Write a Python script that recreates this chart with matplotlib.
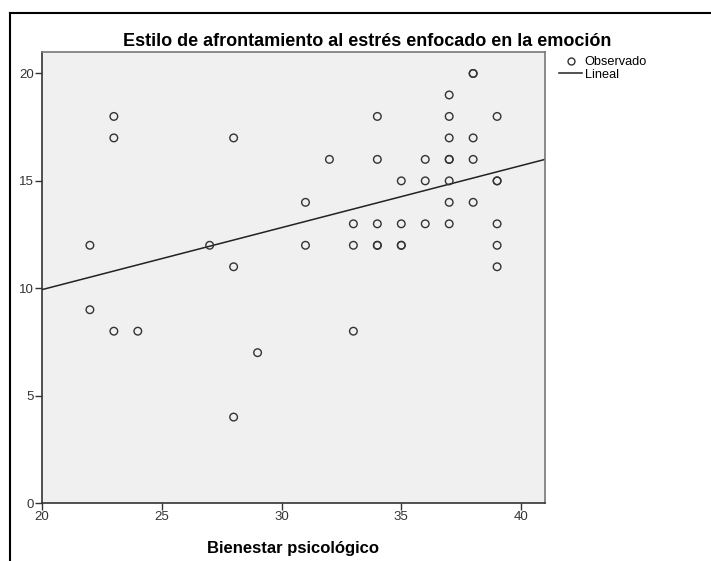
import numpy as np
import matplotlib
matplotlib.use("Agg")
from matplotlib import pyplot as plt
from matplotlib.lines import Line2D

plt.rcParams['font.family'] = ['Liberation Sans', 'DejaVu Sans']

# Bienestar psicológico (x) vs. afrontamiento enfocado en la emoción (y)
bienestar = [22, 22, 23, 23, 23, 24, 27, 28, 28, 28, 29, 31, 31, 32,
             33, 33, 33, 34, 34, 34, 34, 34, 35, 35, 35, 35,
             36, 36, 36, 37, 37, 37, 37, 37, 37, 37, 37,
             38, 38, 38, 38, 38, 39, 39, 39, 39, 39, 39]
emocion = [12, 9, 18, 17, 8, 8, 12, 17, 11, 4, 7, 14, 12, 16,
           13, 12, 8, 18, 16, 13, 12, 12, 15, 13, 12, 12,
           16, 15, 13, 19, 18, 17, 16, 16, 15, 14, 13,
           20, 20, 17, 16, 14, 18, 15, 15, 13, 12, 11]

x_ticks = [20, 25, 30, 35, 40]
y_ticks = [0, 5, 10, 15, 20]

fig = plt.figure(figsize=(7.11, 5.61), dpi=100)
ax = fig.add_axes([42 / 711, 1 - 503 / 561, (545 - 42) / 711, (503 - 52) / 561])
ax.set_facecolor("#f0f0f0")

x = np.array(bienestar, dtype=float)
y = np.array(emocion, dtype=float)
ax.scatter(x, y, s=30, facecolors="none", edgecolors="#333333", linewidths=1.0, zorder=3)

# recta de regresión lineal
b, a = np.polyfit(x, y, 1)
xl = np.array([20, 41])
ax.plot(xl, a + b * xl, color="#222222", lw=1.1, zorder=2)

ax.set_xlim(20, 41)
ax.set_ylim(0, 21)
ax.set_xticks(x_ticks)
ax.set_yticks(y_ticks)
ax.tick_params(direction="out", length=5, width=1, colors="#333333", labelsize=9.5, pad=1)
for s in ["left", "bottom"]:
    ax.spines[s].set_color("#333333")
    ax.spines[s].set_linewidth(1.2)
for s in ["top", "right"]:
    ax.spines[s].set_color("#777777")
    ax.spines[s].set_linewidth(1.2)

fig.text(367.5 / 711, 1 - 46 / 561, "Estilo de afrontamiento al estrés enfocado en la emoción",
         fontsize=13, fontweight="bold", ha="center", va="baseline")
ax.set_xlabel("Bienestar psicológico", fontsize=12, fontweight="bold", labelpad=13)

handles = [Line2D([], [], ls="none", marker="o", mfc="none", mec="#333333", ms=5),
           Line2D([], [], color="#222222", lw=1.1)]
fig.legend(handles, ["Observado", "Lineal"], loc="upper left",
           bbox_to_anchor=(554 / 711, 1 - 51 / 561), frameon=False, fontsize=9.2,
           handlelength=1.8, handletextpad=0.2, labelspacing=0.05, borderaxespad=0)

# marco exterior
fig.add_artist(Line2D([10 / 711, 10 / 711], [0, 1 - 13 / 561], color="black", lw=1.5,
                      transform=fig.transFigure))
fig.add_artist(Line2D([10 / 711, 1], [1 - 13 / 561, 1 - 13 / 561], color="black", lw=1.5,
                      transform=fig.transFigure))

fig.savefig("out.png", dpi=100)
